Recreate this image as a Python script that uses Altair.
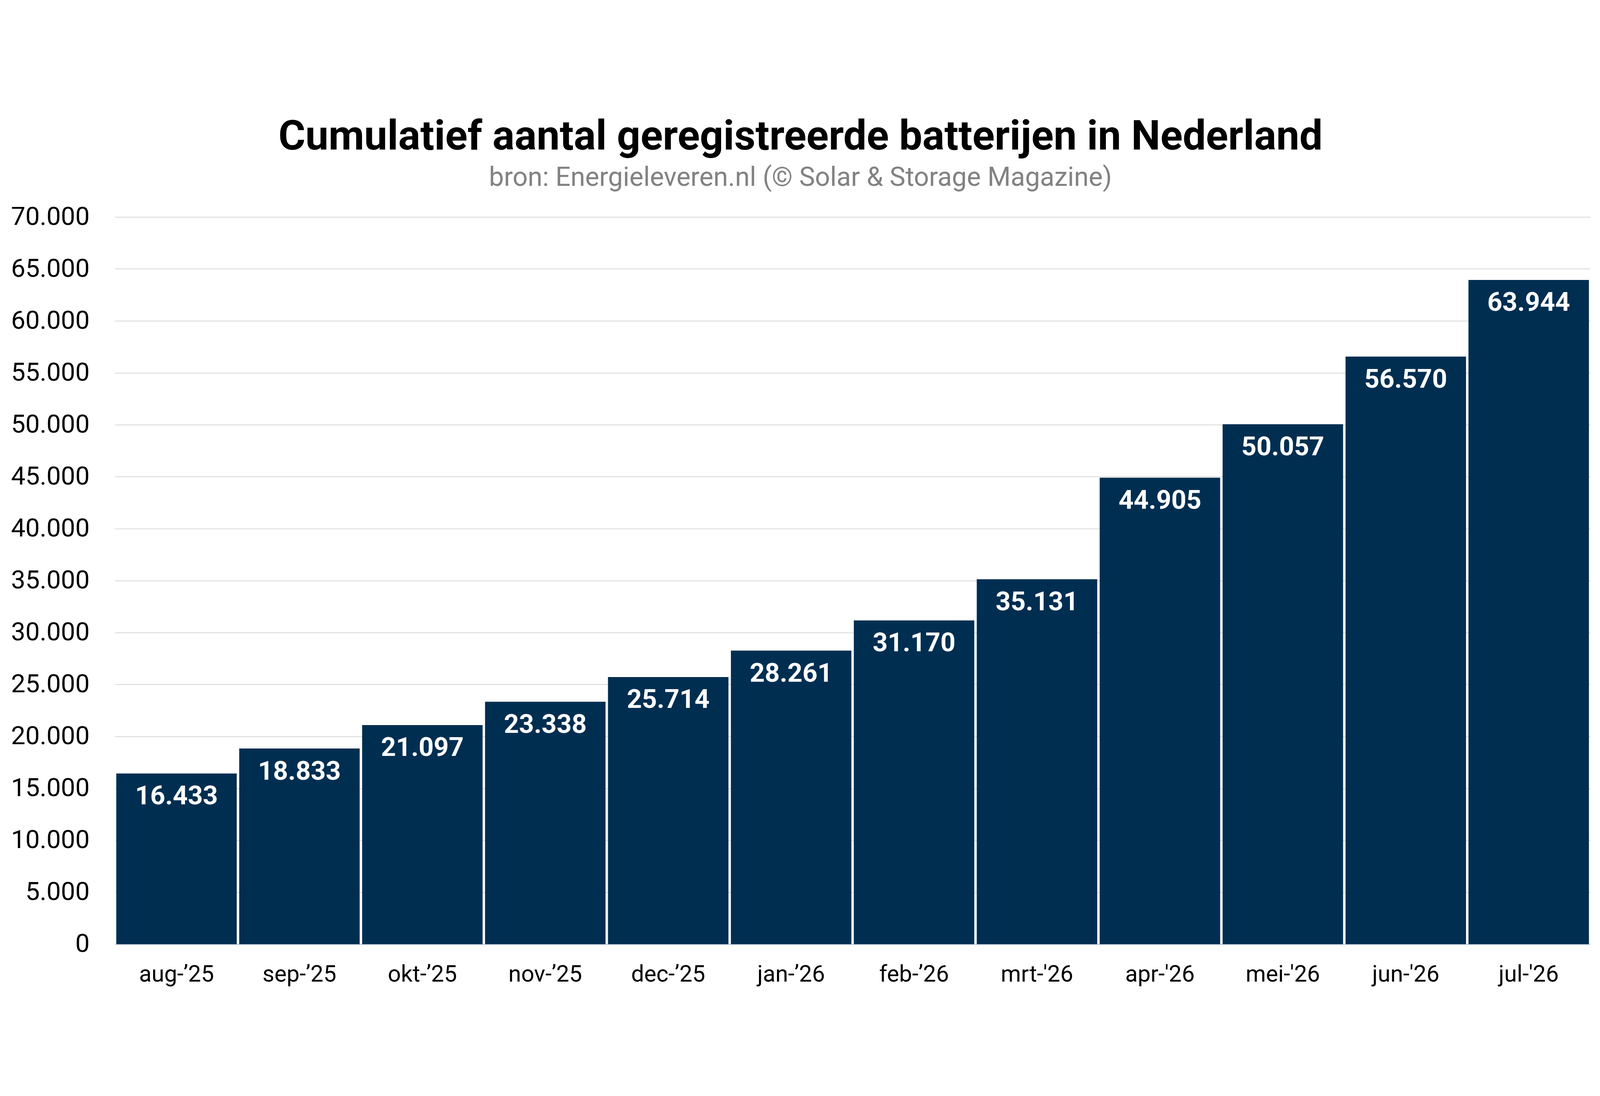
import pandas as pd
import altair as alt

# maand labels (let op: de eerste maanden gebruiken een krul-apostrof)
months = ["aug-\u201925", "sep-\u201925", "okt-\u201925", "nov-\u201925", "dec-\u201925",
          "jan-\u201926", "feb-\u201926", "mrt-'26", "apr-'26", "mei-'26", "jun-'26", "jul-'26"]
batteries = [16433, 18833, 21097, 23338, 25714, 28261, 31170, 35131, 44905, 50057, 56570, 63944]
y_ticks = list(range(0, 70001, 5000))

df = pd.DataFrame({'maand': months, 'aantal': batteries})

bar_color = '#002e51'
font = 'Roboto'
nl_format = "replace(format(datum.value, ','), ',', '.')"  # 16,433 -> 16.433

base = alt.Chart(df)

bars = base.mark_bar(color=bar_color).encode(
    x=alt.X('maand:N', sort=None,
            scale=alt.Scale(paddingInner=0.02, paddingOuter=0.01),
            axis=alt.Axis(title=None, labelAngle=0, ticks=False, labelLimit=1000,
                          labelFontSize=72, labelFont=font, labelColor='black',
                          labelPadding=60, domainColor='#ccd6eb', domainWidth=4)),
    y=alt.Y('aantal:Q',
            scale=alt.Scale(domain=[0, 70000], nice=False),
            axis=alt.Axis(title=None, values=y_ticks, ticks=False, domain=False,
                          labelExpr=nl_format, labelFontSize=80, labelFont=font,
                          labelColor='black', labelPadding=80, labelLimit=1000,
                          gridColor='#dddddd', gridWidth=3))
)

# witte waarde labels binnen de balken
labels = base.mark_text(color='white', font=font, fontWeight='bold', fontSize=82,
                        baseline='middle', align='center', dy=72).encode(
    x=alt.X('maand:N', sort=None),
    y=alt.Y('aantal:Q'),
    text='label:N'
).transform_calculate(
    label="replace(format(datum.aantal, ','), ',', '.')"
)

chart = (bars + labels).properties(
    width=4984,
    height=2791,
    autosize=alt.AutoSizeParams(type='fit', contains='padding'),
    padding={'left': 24, 'top': 46, 'right': 21, 'bottom': 25},
    title=alt.TitleParams(
        text='Cumulatief aantal geregistreerde batterijen in Nederland',
        subtitle='bron: Energieleveren.nl (\u00a9 Solar & Storage Magazine)',
        anchor='middle', frame='bounds',
        font=font, fontSize=129, fontWeight='bold', color='black',
        subtitleFont=font, subtitleFontSize=83, subtitleColor='#828282',
        subtitlePadding=20, offset=40
    )
).configure_view(strokeOpacity=0)

chart.save("out.html", embed_options={"renderer": "svg", "actions": False})
